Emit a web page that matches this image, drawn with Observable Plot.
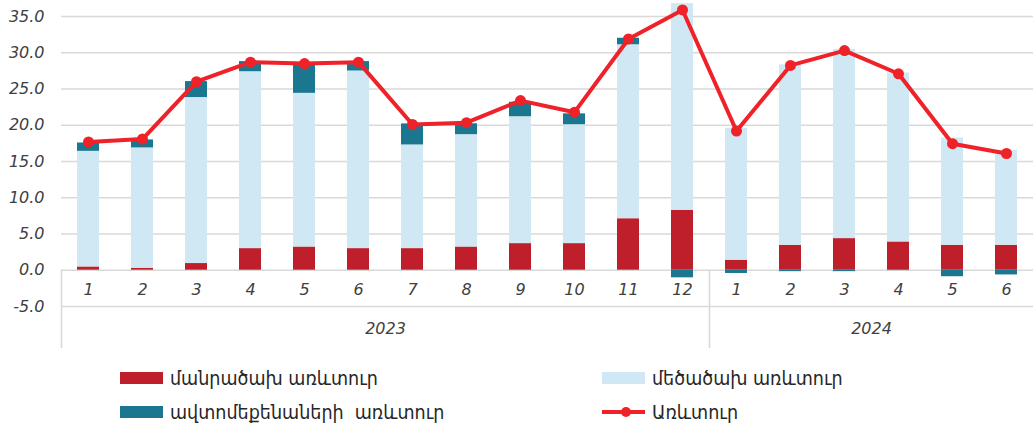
<!DOCTYPE html>
<html>
<head>
<meta charset="utf-8">
<script src="https://cdn.jsdelivr.net/npm/d3@7"></script>
<script src="https://cdn.jsdelivr.net/npm/@observablehq/plot@0.6"></script>
<style>
  html, body { margin: 0; padding: 0; background: #fff; }
  #wrap { width: 1033px; height: 430px; position: relative; overflow: hidden; }
  #legend { position: relative; width: 1033px; height: 75px; font-family: "DejaVu Sans Condensed", "DejaVu Sans", sans-serif; font-size: 19.5px; color: #262626; }
  .item { position: absolute; display: flex; align-items: center; white-space: pre; }
  .sw { width: 43px; height: 12px; margin-right: 7px; }
</style>
</head>
<body>
<div id="wrap">
  <div id="chart"></div>
  <div id="legend"></div>
</div>
<script>
// ---- data ----
const months = ["1","2","3","4","5","6","7","8","9","10","11","12","1","2","3","4","5","6"];
const years = ["2023", "2024"];
const yearCounts = [12, 6];
const retail    = [0.45, 0.27, 0.92, 2.98, 3.2, 2.98, 2.98, 3.2, 3.67, 3.67, 7.1, 8.27, 1.38, 3.44, 4.36, 3.9, 3.44, 3.44];
const wholesale = [15.95, 16.6, 22.9, 24.4, 21.2, 24.5, 14.3, 15.5, 17.5, 16.4, 24.0, 28.5, 18.2, 24.9, 26.1, 23.3, 14.8, 13.1];
const autos     = [1.15, 1.1, 2.2, 1.4, 3.85, 1.3, 2.9, 1.5, 2.0, 1.5, 0.9, -1.05, -0.45, -0.2, -0.2, -0.05, -0.9, -0.65];
const total     = [17.7, 18.1, 26.0, 28.7, 28.5, 28.7, 20.1, 20.35, 23.4, 21.8, 31.9, 35.9, 19.2, 28.25, 30.3, 27.1, 17.45, 16.1];
const yTicks = [-5, 0, 5, 10, 15, 20, 25, 30, 35];
const seriesNames = ["մանրածախ առևտուր", "մեծածախ առևտուր", "ավտոմեքենաների  առևտուր", "Առևտուր"];
const seriesColors = ["#BF1E2B", "#CFE8F3", "#1B7690", "#EE2228"];

// ---- build tables ----
const seriesValues = [retail, wholesale, autos];
const bars = [];
seriesValues.forEach((vals, s) => vals.forEach((v, i) => bars.push({i, v, s: seriesNames[s]})));
const line = total.map((v, i) => ({i, v}));
const starts = yearCounts.map((c, k) => d3.sum(yearCounts.slice(0, k)));
const yearRows = years.map((y, k) => ({y, mid: starts[k] + yearCounts[k] / 2, start: starts[k]}));

const chart = Plot.plot({
  width: 1033,
  height: 355,
  marginLeft: 61,
  marginRight: 0,
  marginTop: 16,
  marginBottom: 7,
  style: {fontFamily: "'DejaVu Sans', sans-serif", fontSize: "16px", color: "#404040", background: "#fff"},
  x: {type: "linear", domain: [0, months.length], axis: null},
  y: {domain: [-10.8, 35], axis: null},
  color: {domain: seriesNames.slice(0, 3), range: seriesColors.slice(0, 3)},
  marks: [
    Plot.ruleY(yTicks, {stroke: "#d9d9d9", strokeWidth: 1.6}),
    Plot.ruleX(yearRows, {x: "start", y1: 0, y2: -10.8, stroke: "#d9d9d9", strokeWidth: 1.6}),
    Plot.rectY(bars, {x: "i", interval: 1, y: "v", fill: "s", insetLeft: 16, insetRight: 16}),
    Plot.line(line, {x: d => d.i + 0.5, y: "v", stroke: seriesColors[3], strokeWidth: 4}),
    Plot.dot(line, {x: d => d.i + 0.5, y: "v", fill: seriesColors[3], r: 5.5}),
    Plot.axisY(yTicks, {label: null, tickSize: 0, tickPadding: 17, tickFormat: d => d.toFixed(1), fontStyle: "italic", fontSize: 16, fill: "#404040"}),
    Plot.text(months, {x: (d, i) => i + 0.5, text: d => d, frameAnchor: "bottom", dy: -54, fontStyle: "italic", fontSize: 16, fill: "#404040"}),
    Plot.text(yearRows, {x: "mid", text: "y", frameAnchor: "bottom", dy: -15, fontStyle: "italic", fontSize: 16, fill: "#404040"})
  ]
});
document.getElementById("chart").appendChild(chart);

// ---- legend ----
const legend = document.getElementById("legend");
const pos = [[120, 23], [602, 23], [120, 57], [602, 57]];
const order = [0, 1, 2, 3];
order.forEach((s, k) => {
  const it = document.createElement("div");
  it.className = "item";
  it.style.left = pos[k][0] + "px";
  it.style.top = (pos[k][1] - 13) + "px";
  it.style.height = "26px";
  let sw;
  if (s < 3) {
    sw = `<div class="sw" style="background:${seriesColors[s]}"></div>`;
  } else {
    sw = `<svg width="43" height="14" style="margin-right:7px"><line x1="0" y1="7" x2="43" y2="7" stroke="${seriesColors[3]}" stroke-width="4"/><circle cx="24" cy="7" r="5" fill="${seriesColors[3]}"/></svg>`;
  }
  it.innerHTML = sw + `<span>${seriesNames[s]}</span>`;
  legend.appendChild(it);
});
</script>
</body>
</html>
